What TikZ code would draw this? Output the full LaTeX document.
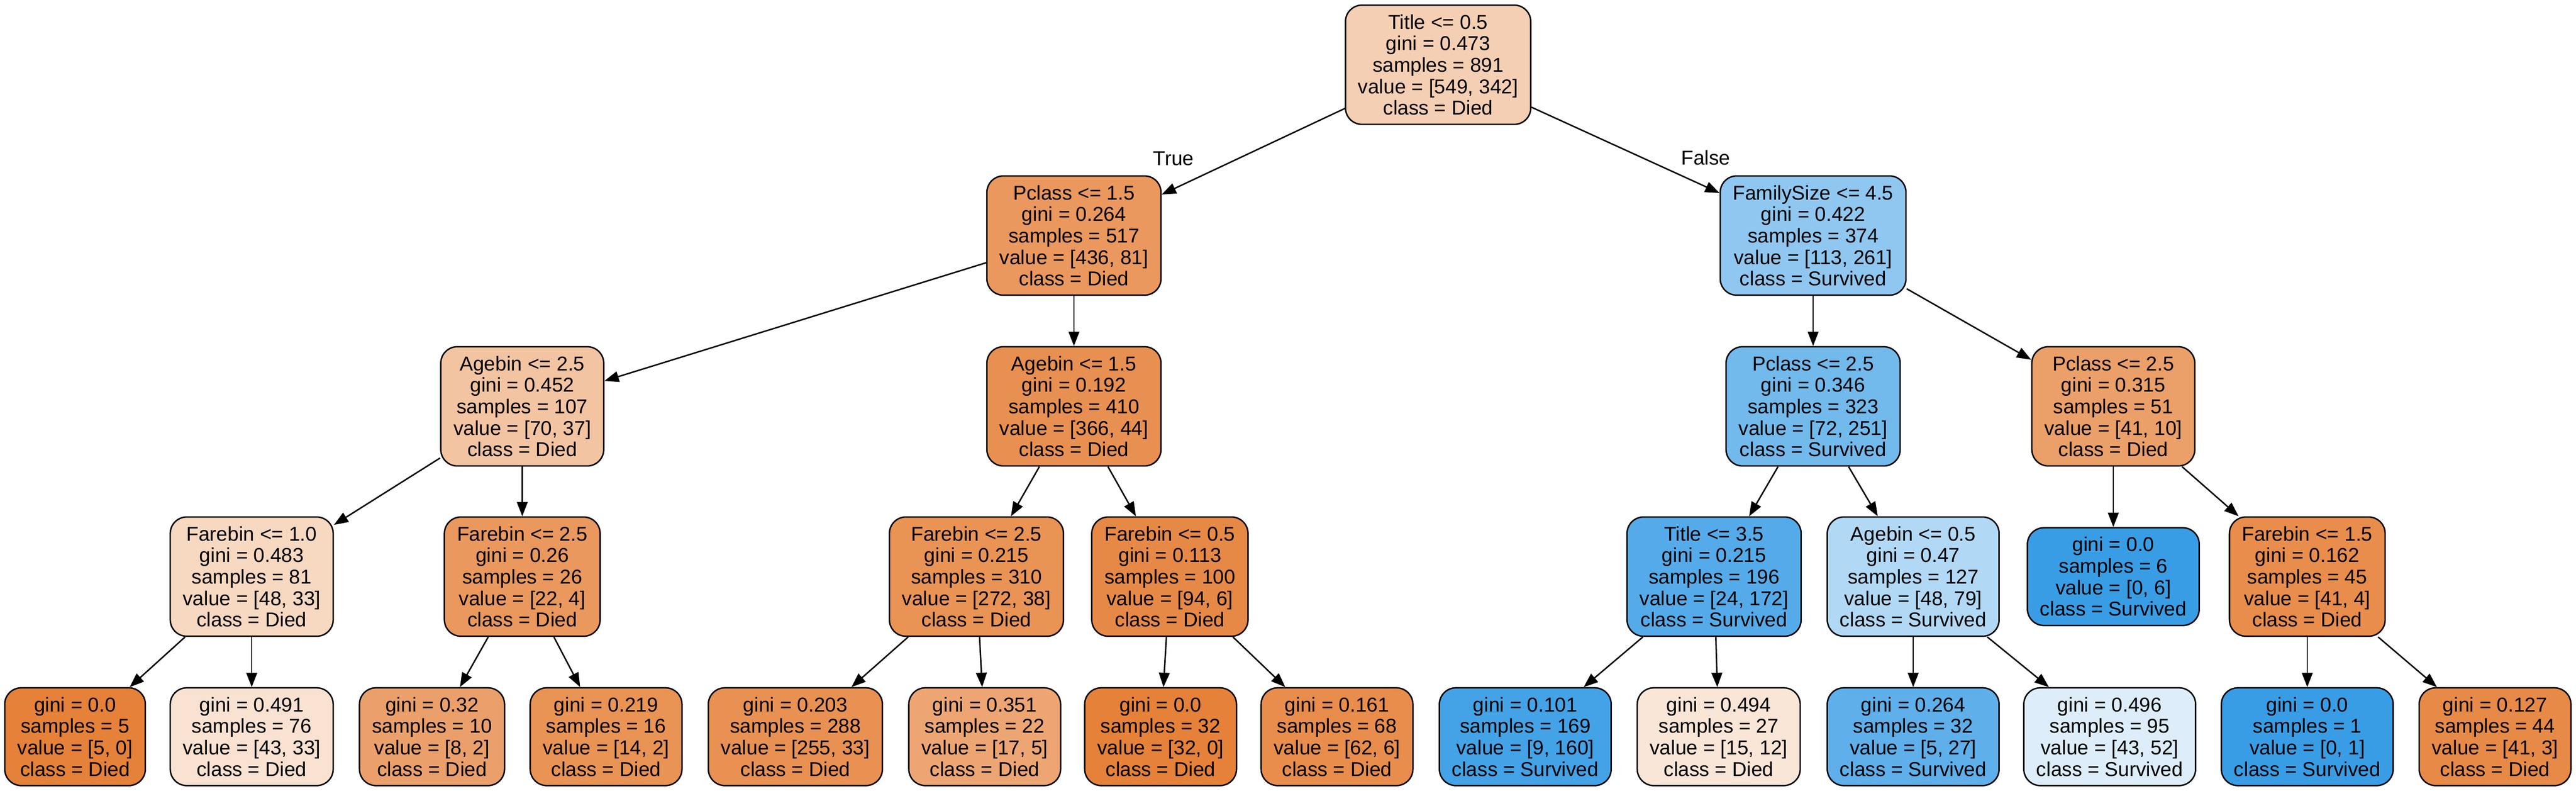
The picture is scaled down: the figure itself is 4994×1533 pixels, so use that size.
\documentclass[tikz,border=0pt]{standalone}
\usepackage{fontspec}
\setmainfont{Liberation Sans}
\usetikzlibrary{arrows.meta, positioning}
\definecolor{died}{RGB}{229,129,57}
\definecolor{survived}{RGB}{57,157,229}

\begin{document}
\begin{tikzpicture}[x=0.36pt, y=-0.36pt,
    box/.style={draw=black, line width=1pt, rounded corners=11.5pt, align=center,
      font=\fontsize{14}{15}\selectfont, inner xsep=8.8pt, inner ysep=0pt, minimum height=83.2pt},
    leaf/.style={box, minimum height=68.2pt},
    edge/.style={-{Triangle[length=10pt, width=7.5pt]}, line width=1pt}]
          \useasboundingbox (0,0) rectangle (4994,1533);
          % Root
          \node[box, fill=died!37.7!white] (root) at (2788,125.5) {Title <= 0.5\\gini = 0.473\\samples = 891\\value = [549, 342]\\class = Died};
          % Level 1
          \node[box, fill=died!81.4!white] (pclassA) at (2082,456.5) {Pclass <= 1.5\\gini = 0.264\\samples = 517\\value = [436, 81]\\class = Died};
          \node[box, fill=survived!56.7!white] (famA) at (3515,456.5) {FamilySize <= 4.5\\gini = 0.422\\samples = 374\\value = [113, 261]\\class = Survived};
          % Level 2
          \node[box, fill=died!47.1!white] (ageA) at (1012.5,787.5) {Agebin <= 2.5\\gini = 0.452\\samples = 107\\value = [70, 37]\\class = Died};
          \node[box, fill=died!88.0!white] (ageB) at (2082,787.5) {Agebin <= 1.5\\gini = 0.192\\samples = 410\\value = [366, 44]\\class = Died};
          \node[box, fill=survived!71.3!white] (pclassB) at (3515,787.5) {Pclass <= 2.5\\gini = 0.346\\samples = 323\\value = [72, 251]\\class = Survived};
          \node[box, fill=died!75.6!white] (pclassC) at (4097,787.5) {Pclass <= 2.5\\gini = 0.315\\samples = 51\\value = [41, 10]\\class = Died};
          % Level 3
          \node[box, fill=died!31.3!white] (fareA) at (488,1117.5) {Farebin <= 1.0\\gini = 0.483\\samples = 81\\value = [48, 33]\\class = Died};
          \node[box, fill=died!81.8!white] (fareB) at (1012.5,1117.5) {Farebin <= 2.5\\gini = 0.26\\samples = 26\\value = [22, 4]\\class = Died};
          \node[box, fill=died!86.0!white] (fareC) at (1893,1117.5) {Farebin <= 2.5\\gini = 0.215\\samples = 310\\value = [272, 38]\\class = Died};
          \node[box, fill=died!93.6!white] (fareD) at (2268,1117.5) {Farebin <= 0.5\\gini = 0.113\\samples = 100\\value = [94, 6]\\class = Died};
          \node[box, fill=survived!86.0!white] (titleB) at (3323,1117.5) {Title <= 3.5\\gini = 0.215\\samples = 196\\value = [24, 172]\\class = Survived};
          \node[box, fill=survived!39.2!white] (ageC) at (3709,1117.5) {Agebin <= 0.5\\gini = 0.47\\samples = 127\\value = [48, 79]\\class = Survived};
          \node[leaf, fill=survived] (leafA) at (4097,1117.5) {gini = 0.0\\samples = 6\\value = [0, 6]\\class = Survived};
          \node[box, fill=died!90.2!white] (fareE) at (4473,1117.5) {Farebin <= 1.5\\gini = 0.162\\samples = 45\\value = [41, 4]\\class = Died};
          % Level 4
          \node[leaf, fill=died] (leafB) at (145.5,1427.75) {gini = 0.0\\samples = 5\\value = [5, 0]\\class = Died};
          \node[leaf, fill=died!23.3!white] (leafC) at (488,1427.75) {gini = 0.491\\samples = 76\\value = [43, 33]\\class = Died};
          \node[leaf, fill=died!75.0!white] (leafD) at (837.5,1427.75) {gini = 0.32\\samples = 10\\value = [8, 2]\\class = Died};
          \node[leaf, fill=died!85.7!white] (leafE) at (1175,1427.75) {gini = 0.219\\samples = 16\\value = [14, 2]\\class = Died};
          \node[leaf, fill=died!87.1!white] (leafF) at (1542,1427.75) {gini = 0.203\\samples = 288\\value = [255, 33]\\class = Died};
          \node[leaf, fill=died!70.6!white] (leafG) at (1909,1427.75) {gini = 0.351\\samples = 22\\value = [17, 5]\\class = Died};
          \node[leaf, fill=died] (leafH) at (2250,1427.75) {gini = 0.0\\samples = 32\\value = [32, 0]\\class = Died};
          \node[leaf, fill=died!90.3!white] (leafI) at (2592,1427.75) {gini = 0.161\\samples = 68\\value = [62, 6]\\class = Died};
          \node[leaf, fill=survived!94.4!white] (leafJ) at (2957,1427.75) {gini = 0.101\\samples = 169\\value = [9, 160]\\class = Survived};
          \node[leaf, fill=died!20.0!white] (leafK) at (3332,1427.75) {gini = 0.494\\samples = 27\\value = [15, 12]\\class = Died};
          \node[leaf, fill=survived!81.5!white] (leafL) at (3709,1427.75) {gini = 0.264\\samples = 32\\value = [5, 27]\\class = Survived};
          \node[leaf, fill=survived!17.3!white] (leafM) at (4090,1427.75) {gini = 0.496\\samples = 95\\value = [43, 52]\\class = Survived};
          \node[leaf, fill=survived] (leafN) at (4473,1427.75) {gini = 0.0\\samples = 1\\value = [0, 1]\\class = Survived};
          \node[leaf, fill=died!92.7!white] (leafO) at (4837,1427.75) {gini = 0.127\\samples = 44\\value = [41, 3]\\class = Died};
          % Edge labels
          \node[font=\fontsize{14}{15}\selectfont, inner sep=0pt] (lblTrue) at (2275,307) {True};
          \node[font=\fontsize{14}{15}\selectfont, inner sep=0pt] (lblFalse) at (3307,306) {False};
          % Edges
          \foreach \a/\b in {root/pclassA, root/famA, pclassA/ageA, pclassA/ageB,
              famA/pclassB, famA/pclassC, ageA/fareA, ageA/fareB, ageB/fareC, ageB/fareD,
              pclassB/titleB, pclassB/ageC, pclassC/leafA, pclassC/fareE,
              fareA/leafB, fareA/leafC, fareB/leafD, fareB/leafE, fareC/leafF, fareC/leafG,
              fareD/leafH, fareD/leafI, titleB/leafJ, titleB/leafK, ageC/leafL, ageC/leafM,
              fareE/leafN, fareE/leafO}
            \draw[edge] (\a) -- (\b);
        \end{tikzpicture}
\end{document}
